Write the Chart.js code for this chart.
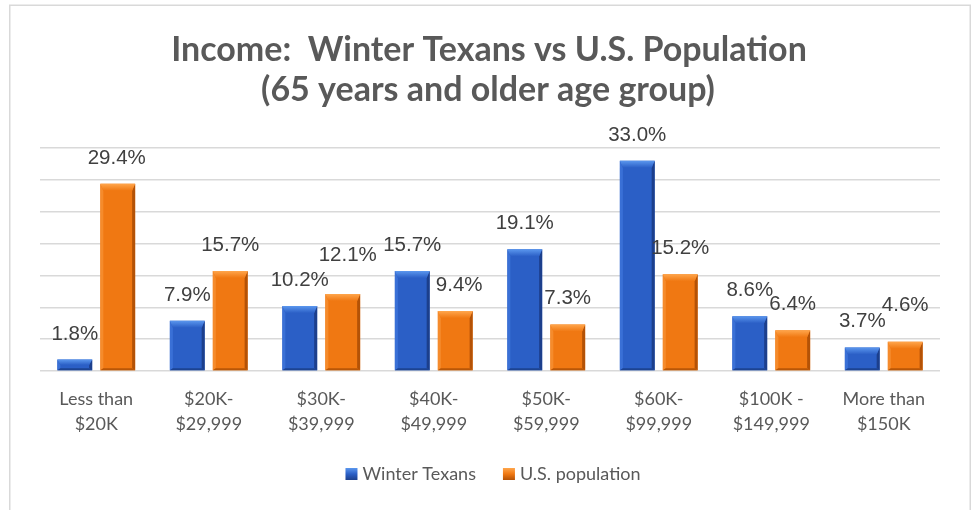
<!DOCTYPE html>
<html>
<head>
<meta charset="utf-8">
<script src="https://cdn.jsdelivr.net/npm/chart.js@4/dist/chart.umd.min.js"></script>
<style>
html,body{margin:0;padding:0;background:#fff;}
canvas{display:block;}
</style>
</head>
<body>
<canvas id="c" width="975" height="510"></canvas>
<script>
const titleLines = ['Income:  Winter Texans vs U.S. Population', '(65 years and older age group)'];
const categories = [
  ['Less than', '$20K'],
  ['$20K-', '$29,999'],
  ['$30K-', '$39,999'],
  ['$40K-', '$49,999'],
  ['$50K-', '$59,999'],
  ['$60K-', '$99,999'],
  ['$100K -', '$149,999'],
  ['More than', '$150K']
];
const seriesNames = ['Winter Texans', 'U.S. population'];
const winterTexans = [1.8, 7.9, 10.2, 15.7, 19.1, 33.0, 8.6, 3.7];
const usPopulation = [29.4, 15.7, 12.1, 9.4, 7.3, 15.2, 6.4, 4.6];
const yMin = 0, yMax = 35, yStep = 5;

// label nudges (style only): [dx, dy] per bar
const nudgeWinter = [[0,0],[0,0],[0,0],[0,0],[0,0],[0,0],[0,0],[0,0]];
const nudgeUS = [[-1,0],[0,0],[5,-13],[4,0],[0,0],[0,0],[0,0],[0,-11]];

const palette = [
  {body:'#2b5fc6', light:'#5b97ee', edgeL:'#3a70d6', edgeR:'#1c3f8c', bottom:'#1d4391'},
  {body:'#f07812', light:'#ffa64c', edgeL:'#f58b2c', edgeR:'#b45206', bottom:'#b85607'}
];

const bevelPlugin = {
  id: 'bevel',
  afterDatasetsDraw(chart) {
    const ctx = chart.ctx;
    chart.data.datasets.forEach((ds, di) => {
      const meta = chart.getDatasetMeta(di);
      const p = palette[di];
      meta.data.forEach(bar => {
        const w = bar.width, x0 = bar.x - w/2, x1 = bar.x + w/2, yt = bar.y, yb = bar.base;
        const h = yb - yt;
        const b = Math.min(7, h/2);
        ctx.save();
        ctx.fillStyle = p.edgeR;
        ctx.beginPath(); ctx.moveTo(x1, yt); ctx.lineTo(x1 - 3, yt + b); ctx.lineTo(x1 - 3, yb - 2); ctx.lineTo(x1, yb); ctx.closePath(); ctx.fill();
        ctx.fillStyle = p.edgeL;
        ctx.beginPath(); ctx.moveTo(x0, yt); ctx.lineTo(x0 + 3, yt + b); ctx.lineTo(x0 + 3, yb - 2); ctx.lineTo(x0, yb); ctx.closePath(); ctx.fill();
        ctx.fillStyle = p.bottom;
        ctx.beginPath(); ctx.moveTo(x0, yb); ctx.lineTo(x0 + 3, yb - 2); ctx.lineTo(x1 - 3, yb - 2); ctx.lineTo(x1, yb); ctx.closePath(); ctx.fill();
        const g = ctx.createLinearGradient(0, yt, 0, yt + b);
        g.addColorStop(0, p.light); g.addColorStop(1, p.body);
        ctx.fillStyle = g;
        ctx.beginPath(); ctx.moveTo(x0, yt); ctx.lineTo(x1, yt); ctx.lineTo(x1 - 3, yt + b); ctx.lineTo(x0 + 3, yt + b); ctx.closePath(); ctx.fill();
        ctx.restore();
      });
    });
  }
};

const labelPlugin = {
  id: 'valueLabels',
  afterDatasetsDraw(chart) {
    const ctx = chart.ctx;
    const nudges = [nudgeWinter, nudgeUS];
    ctx.save();
    ctx.font = '20.5px "Liberation Sans", Arial, sans-serif';
    ctx.fillStyle = '#404040';
    ctx.textAlign = 'center';
    ctx.textBaseline = 'alphabetic';
    chart.data.datasets.forEach((ds, di) => {
      const meta = chart.getDatasetMeta(di);
      meta.data.forEach((bar, i) => {
        const n = nudges[di][i];
        ctx.fillText(ds.data[i].toFixed(1) + '%', bar.x + n[0], bar.y - 20 + n[1]);
      });
    });
    ctx.restore();
  }
};

const framePlugin = {
  id: 'frame',
  beforeDraw(chart) {
    const ctx = chart.ctx;
    ctx.save();
    ctx.fillStyle = '#ffffff';
    ctx.fillRect(0, 0, chart.width, chart.height);
    ctx.strokeStyle = '#d9d9d9';
    ctx.lineWidth = 1.5;
    ctx.strokeRect(9.75, 5.25, 960.5, 600);
    ctx.restore();
  },
  afterDraw(chart) {
    const ctx = chart.ctx;
    ctx.save();
    ctx.fillStyle = '#595959';
    ctx.font = 'bold 34px Lato, "Open Sans", sans-serif';
    ctx.textAlign = 'center';
    ctx.textBaseline = 'alphabetic';
    ctx.fillText(titleLines[0], 489, 61);
    ctx.fillText(titleLines[1], 488, 101);
    ctx.font = '18px Lato, "Open Sans", sans-serif';
    const box = 12, gap = 5, itemGap = 27;
    const widths = chart.data.datasets.map(d => ctx.measureText(d.label).width);
    let total = 0;
    widths.forEach((w, i) => { total += box + gap + w + (i ? itemGap : 0); });
    let x = 493 - total / 2;
    ctx.textAlign = 'left';
    chart.data.datasets.forEach((d, i) => {
      const p = palette[i];
      const g = ctx.createLinearGradient(0, 468, 0, 480);
      g.addColorStop(0, p.light); g.addColorStop(0.5, p.body); g.addColorStop(1, p.edgeR);
      ctx.fillStyle = g;
      ctx.fillRect(x, 468, box, box);
      ctx.fillStyle = '#595959';
      ctx.fillText(d.label, x + box + gap, 480);
      x += box + gap + widths[i] + itemGap;
    });
    ctx.restore();
  }
};

new Chart(document.getElementById('c'), {
  type: 'bar',
  data: {
    labels: categories,
    datasets: [
      { label: seriesNames[0], data: winterTexans, backgroundColor: palette[0].body, borderWidth: 0 },
      { label: seriesNames[1], data: usPopulation, backgroundColor: palette[1].body, borderWidth: 0 }
    ]
  },
  options: {
    responsive: false,
    animation: false,
    devicePixelRatio: 1,
    categoryPercentage: 0.764,
    barPercentage: 0.81,
    layout: { padding: { left: 40, right: 35, top: 148, bottom: 64 } },
    plugins: {
      legend: { display: false },
      title: { display: false },
      tooltip: { enabled: false }
    },
    scales: {
      x: {
        grid: { display: false, drawTicks: false },
        border: { display: false },
        ticks: {
          color: '#595959',
          padding: 16,
          maxRotation: 0,
          autoSkip: false,
          font: { family: 'Lato, "Open Sans", sans-serif', size: 18, lineHeight: '25px' }
        },
        afterFit(scale) { scale.height = 75; }
      },
      y: {
        min: yMin, max: yMax,
        ticks: { display: false, stepSize: yStep },
        grid: { color: '#d9d9d9', lineWidth: 1.4, drawTicks: false },
        border: { display: false },
        afterFit(scale) { scale.width = 0; }
      }
    }
  },
  plugins: [framePlugin, bevelPlugin, labelPlugin]
});
</script>
</body>
</html>
